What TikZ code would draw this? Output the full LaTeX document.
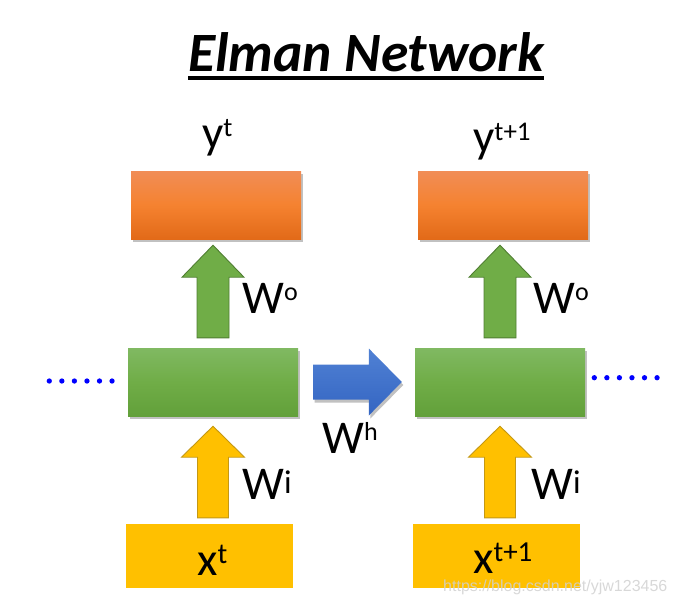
\documentclass[tikz,border=0pt]{standalone}
\usepackage{fontspec}
\setmainfont{Carlito}
\newfontfamily\wmfont{Liberation Sans}
\usetikzlibrary{calc,shadows}
\definecolor{orT}{RGB}{241,141,86}
\definecolor{orM}{RGB}{245,130,48}
\definecolor{orB}{RGB}{226,106,24}
\definecolor{grT}{RGB}{128,185,98}
\definecolor{grM}{RGB}{112,173,71}
\definecolor{grB}{RGB}{98,160,58}
\definecolor{grArrow}{RGB}{112,173,71}
\definecolor{grEdge}{RGB}{80,126,50}
\definecolor{yel}{RGB}{255,192,0}
\definecolor{yelEdge}{RGB}{196,152,20}
\definecolor{blT}{RGB}{80,129,212}
\definecolor{blB}{RGB}{52,101,194}
\definecolor{dotblue}{RGB}{0,0,255}
\newcommand\upblock[6]{%
  \path[#1] let \p1=(#2), \p2=(#3) in
    (\x1-#4pt,\y1) -- (\x1+#4pt,\y1) -- (\x1+#4pt,\y2-#6pt) -- (\x1+#5pt,\y2-#6pt)
    -- (\x1,\y2) -- (\x1-#5pt,\y2-#6pt) -- (\x1-#4pt,\y2-#6pt) -- cycle;}
\newcommand\rightblock[6]{%
  \path[#1] let \p1=(#2), \p2=(#3) in
    (\x1,\y2-#4pt) -- (\x2-#6pt,\y2-#4pt) -- (\x2-#6pt,\y2-#5pt) -- (\x2,\y2)
    -- (\x2-#6pt,\y2+#5pt) -- (\x2-#6pt,\y2+#4pt) -- (\x1,\y2+#4pt) -- cycle;}
\newcommand\sups[3]{\raisebox{#1}{\fontsize{#2}{#2}\selectfont #3}}
\tikzset{
  boxshadow/.style={drop shadow={shadow xshift=1.5pt, shadow yshift=-3pt, opacity=0.35, fill=black!70}},
  orangebox/.style={rectangle, inner sep=0pt, minimum width=170pt, minimum height=68pt,
    top color=orT, bottom color=orB, middle color=orM, boxshadow},
  greenbox/.style={rectangle, inner sep=0pt, minimum width=170pt, minimum height=68pt,
    top color=grT, bottom color=grB, middle color=grM, boxshadow},
  yellowbox/.style={rectangle, inner sep=0pt, minimum width=167pt, minimum height=64pt, fill=yel},
  greenarrow/.style={fill=grArrow, draw=grEdge, line width=0.9pt, line join=miter},
  yellowarrow/.style={fill=yel, draw=yelEdge, line width=0.9pt, line join=miter},
  bluearrow/.style={top color=blT, bottom color=blB, boxshadow},
  lbl/.style={anchor=base west, inner sep=0pt, font=\fontsize{47}{47}\selectfont},
  dotline/.style={draw=dotblue, line width=5.3pt, line cap=round, dash pattern=on 0pt off 12.55pt},
}
\begin{document}
\begin{tikzpicture}[x=1pt,y=-1pt]
\useasboundingbox (0,0) rectangle (676,606);
% title
\node[anchor=base west, inner sep=0pt, font=\fontsize{55.5}{55.5}\selectfont\bfseries\itshape] (title) at (188,71) {Elman Network};
\draw[line width=3.5pt] ($(title.base west)+(0,7)$) -- ($(title.base east)+(0,7)$);
% boxes
\node[orangebox] (y1) at (216,205) {};
\node[orangebox] (y2) at (503,205) {};
\node[greenbox] (h1) at (213,382) {};
\node[greenbox] (h2) at (500,382) {};
\node[yellowbox] (x1) at (209.5,556) {};
\node[yellowbox] (x2) at (496.5,556) {};
% arrow anchor points
\coordinate (go1b) at ($(h1.north)+(0,-10)$);
\coordinate (go1t) at ($(h1.north |- y1.south)+(0,6)$);
\coordinate (go2b) at ($(h2.north)+(0,-10)$);
\coordinate (go2t) at ($(h2.north |- y2.south)+(0,6)$);
\coordinate (yi1b) at ($(h1.south |- x1.north)+(0,-6)$);
\coordinate (yi1t) at ($(h1.south)+(0,10)$);
\coordinate (yi2b) at ($(h2.south |- x2.north)+(0,-6)$);
\coordinate (yi2t) at ($(h2.south)+(0,10)$);
\coordinate (bhs) at ($(h1.east)+(15,0)$);
\coordinate (bht) at ($(h2.west)+(-13,0)$);
% arrows
\upblock{greenarrow}{go1b}{go1t}{16}{31}{32}
\upblock{greenarrow}{go2b}{go2t}{16}{31}{32}
\upblock{yellowarrow}{yi1b}{yi1t}{15.5}{31.5}{31}
\upblock{yellowarrow}{yi2b}{yi2t}{15.5}{31.5}{31}
\rightblock{bluearrow}{bhs}{bht}{17.5}{33.5}{33}
% dots
\coordinate (dl1) at (49.3,381);
\coordinate (dl2) at (112.2,381);
\coordinate (dr1) at (594.3,377.7);
\coordinate (dr2) at (657.2,377.7);
\draw[dotline] (dl1) -- (dl2);
\draw[dotline] (dr1) -- (dr2);
% labels
\node[lbl] (ly1) at (202,148) {y\sups{12pt}{27}{t}};
\node[lbl] (ly2) at (473,152) {y\sups{12pt}{27}{t+1}};
\node[lbl] (lwo1) at (242,313) {W\sups{13pt}{26}{o}};
\node[lbl] (lwo2) at (533,313) {W\sups{13pt}{26}{o}};
\node[lbl] (lwh) at (322,453) {W\sups{13pt}{26}{h}};
\node[lbl] (lwi1) at (242,499) {W\sups{6pt}{33}{i}};
\node[lbl] (lwi2) at (531,499) {W\sups{6pt}{33}{i}};
\node[lbl] (lx1) at (197,575) {x\sups{12pt}{29}{t}};
\node[lbl] (lx2) at (473,573) {x\sups{12pt}{29}{t+1}};
% watermark
\node[anchor=base west, inner sep=0pt, font=\wmfont\fontsize{16}{16}\selectfont, text=white!82!black, opacity=0.85] (wm) at (443,591) {https://blog.csdn.net/yjw123456};
\end{tikzpicture}
\end{document}
